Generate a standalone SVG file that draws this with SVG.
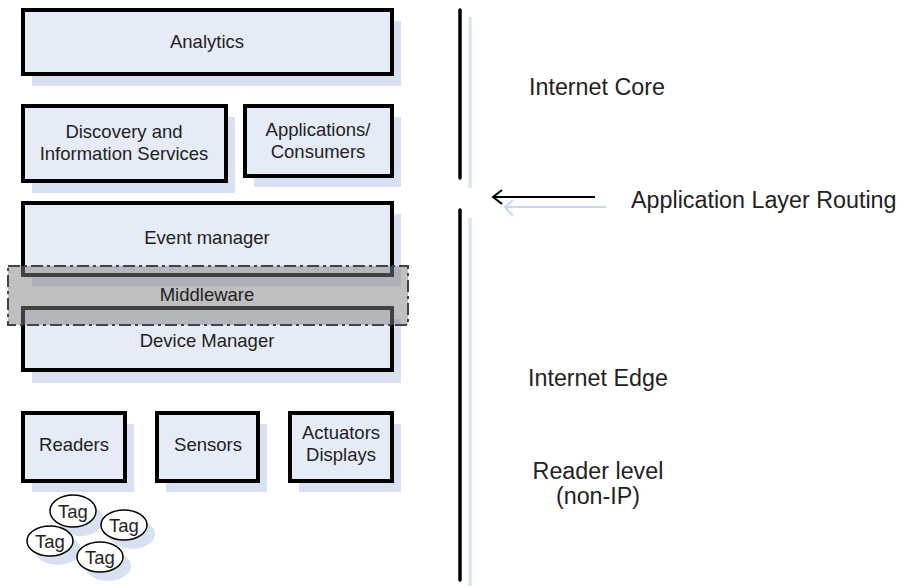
<svg xmlns="http://www.w3.org/2000/svg" width="901" height="588" viewBox="0 0 901 588">
<style>
text{font-family:"Liberation Sans",Arial,sans-serif;fill:#222;}
.bt{font-size:18.5px;text-anchor:middle;}
.rt{font-size:23.3px;}
.box{fill:#e6ecf7;stroke:#000;stroke-width:4;}
.sh{fill:#d8e1f1;}
.tag{fill:#fff;stroke:#000;stroke-width:1.5;}
.vl{stroke:#000;stroke-width:3.5;stroke-linecap:round;}
.vs{stroke:#dce4f3;stroke-width:3.5;}
</style>
<rect width="901" height="588" fill="#fff"/>
<g id="analytics">
<rect class="sh" x="32" y="21" width="369" height="65"/>
<rect class="box" x="23" y="10" width="369" height="64"/>
<text class="bt" x="207" y="48">Analytics</text>
</g>
<g id="discovery">
<rect class="sh" x="32" y="117" width="203" height="76"/>
<rect class="box" x="23" y="106" width="203" height="75"/>
<text class="bt" x="124" y="138">Discovery and</text>
<text class="bt" x="124" y="160">Information Services</text>
</g>
<g id="applications">
<rect class="sh" x="254" y="117" width="147" height="70"/>
<rect class="box" x="245" y="106" width="147" height="70"/>
<text class="bt" x="318" y="136">Applications/</text>
<text class="bt" x="318" y="158">Consumers</text>
</g>
<g id="event-manager">
<rect class="sh" x="32" y="214" width="369" height="72"/>
<rect class="box" x="23" y="203" width="369" height="72"/>
<text class="bt" x="207" y="244">Event manager</text>
</g>
<g id="device-manager">
<rect class="sh" x="32" y="319" width="369" height="64"/>
<rect class="box" x="23" y="308" width="369" height="62"/>
<text class="bt" x="207" y="347">Device Manager</text>
</g>
<g id="middleware">
<rect x="8" y="266" width="400" height="59" fill="#808080" fill-opacity="0.5" stroke="#444" stroke-width="2" stroke-dasharray="12 4 3 4"/>
<text class="bt" x="207" y="301">Middleware</text>
</g>
<g id="readers">
<rect class="sh" x="32" y="424" width="102" height="68"/>
<rect class="box" x="23" y="413" width="102" height="68"/>
<text class="bt" x="74" y="451">Readers</text>
</g>
<g id="sensors">
<rect class="sh" x="166" y="424" width="101" height="68"/>
<rect class="box" x="157" y="413" width="101" height="68"/>
<text class="bt" x="208" y="451">Sensors</text>
</g>
<g id="actuators">
<rect class="sh" x="299" y="424" width="102" height="68"/>
<rect class="box" x="290" y="413" width="102" height="68"/>
<text class="bt" x="341" y="439">Actuators</text>
<text class="bt" x="341" y="461">Displays</text>
</g>
<g id="tag1">
<ellipse class="sh" cx="81" cy="520" rx="23" ry="16"/>
<ellipse class="tag" cx="73" cy="511" rx="23" ry="16"/>
<text class="bt" x="73" y="518">Tag</text>
</g>
<g id="tag2">
<ellipse class="sh" cx="132" cy="534" rx="23" ry="15"/>
<ellipse class="tag" cx="124" cy="525" rx="23" ry="15"/>
<text class="bt" x="124" y="532">Tag</text>
</g>
<g id="tag3">
<ellipse class="sh" cx="58" cy="550" rx="23" ry="15"/>
<ellipse class="tag" cx="50" cy="541" rx="23" ry="15"/>
<text class="bt" x="50" y="548">Tag</text>
</g>
<g id="tag4">
<ellipse class="sh" cx="108" cy="566" rx="23" ry="15"/>
<ellipse class="tag" cx="100" cy="557" rx="23" ry="15"/>
<text class="bt" x="100" y="564">Tag</text>
</g>
<g id="connectors">
<line class="vs" x1="470" y1="17" x2="470" y2="188"/>
<line class="vs" x1="470" y1="218" x2="470" y2="586"/>
<line class="vl" x1="460" y1="10" x2="460" y2="178"/>
<line class="vl" x1="460" y1="210" x2="460" y2="580"/>
<g fill="none" stroke="#c9d6ee" stroke-width="2">
<line x1="505" y1="207" x2="606" y2="207"/>
<polyline points="513,200 505,207 513,216"/>
</g>
<g fill="none" stroke="#000" stroke-width="2">
<line x1="493" y1="197" x2="595" y2="197"/>
<polyline points="502,190 493,197 502,204"/>
</g>
</g>
<g id="labels">
<text class="rt" x="529" y="95">Internet Core</text>
<text class="rt" x="631" y="208">Application Layer Routing</text>
<text class="rt" x="528" y="386">Internet Edge</text>
<text class="rt" x="598" y="479" text-anchor="middle">Reader level</text>
<text class="rt" x="598" y="504" text-anchor="middle">(non-IP)</text>
</g>
</svg>
